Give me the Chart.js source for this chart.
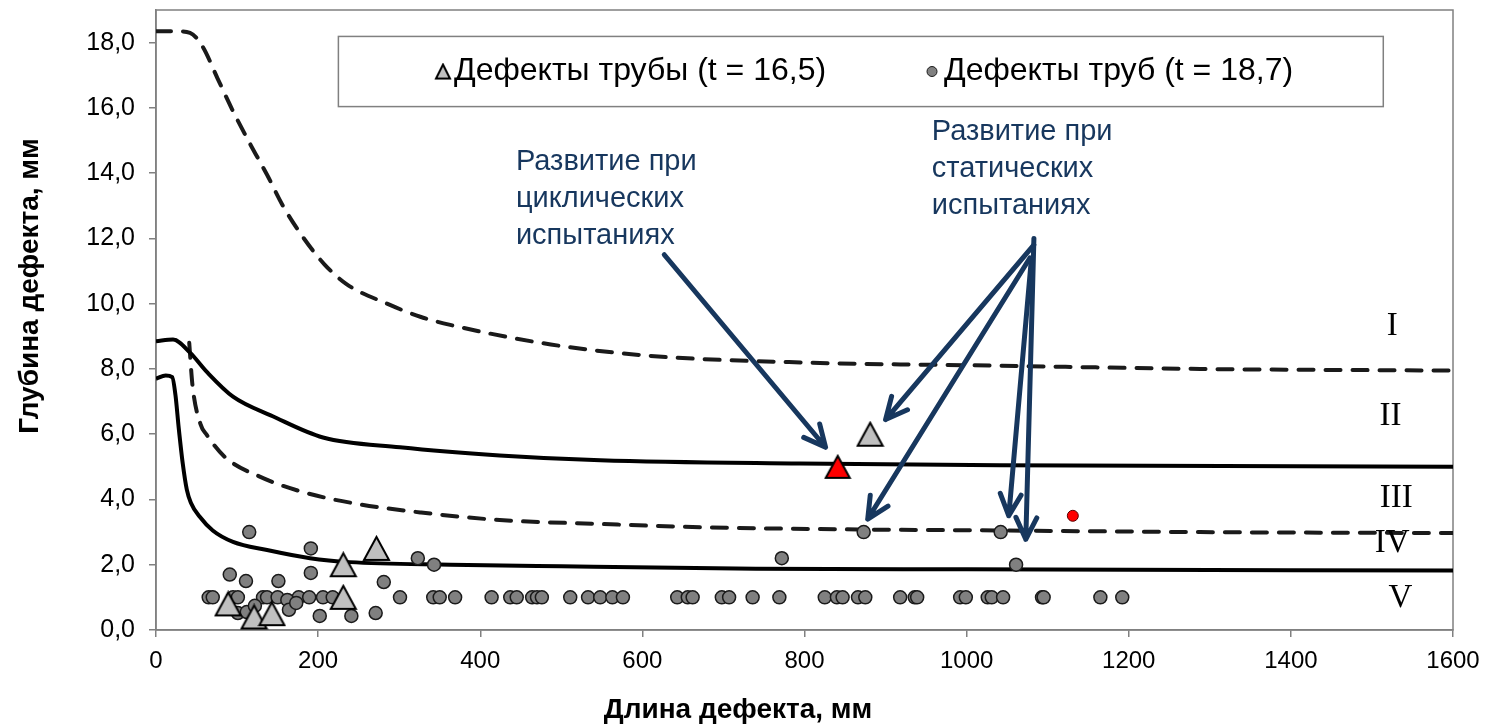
<!DOCTYPE html>
<html>
<head>
<meta charset="utf-8">
<script src="https://cdn.jsdelivr.net/npm/chart.js@4"></script>
<style>
  html, body { margin: 0; background: #fff; }
  #wrap { width: 1486px; height: 724px; }
</style>
</head>
<body>
<div id="wrap"><canvas id="chart"></canvas></div>
<script>
// limit curves (I..V)
const curveIx = [0, 25, 42, 57, 76, 94, 116, 137, 157, 181, 208, 235, 285, 326, 363, 487, 610, 795, 1041, 1288, 1600]
const curveIy = [18.35, 18.35, 18.3, 17.9, 16.9, 15.95, 14.9, 13.95, 12.98, 12.05, 11.2, 10.6, 10.0, 9.6, 9.35, 8.75, 8.4, 8.2, 8.1, 8.0, 7.95]
const curveIIx = [0, 21, 42, 63, 95, 144, 206, 301, 424, 548, 794, 1041, 1600]
const curveIIy = [8.85, 8.9, 8.5, 7.9, 7.15, 6.55, 5.9, 5.6, 5.35, 5.2, 5.1, 5.05, 5.0]
const curveIIIx = [41, 45, 55, 62, 85, 128, 178, 240, 327, 424, 548, 671, 868, 1041, 1288, 1600]
const curveIIIy = [8.8, 7.5, 6.3, 6.0, 5.3, 4.7, 4.25, 3.9, 3.6, 3.37, 3.25, 3.15, 3.08, 3.05, 3.0, 2.97]
const curveVx = [0, 12, 20, 24, 28, 33, 38, 43, 54, 70, 95, 137, 190, 239, 363, 500, 740, 1000, 1600]
const curveVy = [7.7, 7.8, 7.75, 7.2, 6.2, 5.1, 4.3, 3.9, 3.47, 3.05, 2.7, 2.45, 2.2, 2.08, 2.0, 1.95, 1.88, 1.86, 1.82]

// pipe defects t = 16,5 (triangles)
const triX = [89, 121, 143, 231, 231, 272, 881]
const triY = [0.8, 0.4, 0.5, 1.0, 2.0, 2.5, 6.0]
const redTriX = [841]
const redTriY = [5.0]

// pipe defects t = 18,7 (circles)
const rowX = [65, 70, 95, 101, 132, 137, 150, 176, 189, 206, 218, 301, 342, 350, 369, 414, 437, 445, 464, 470, 476,
  511, 533, 548, 563, 576, 643, 656, 662, 698, 707, 736, 769, 825, 840, 847, 866, 875, 918, 936, 939, 992, 999,
  1026, 1031, 1045, 1093, 1095, 1165, 1192]
const otherX = [115, 191, 191, 91, 111, 151, 281, 323, 343, 101, 112, 122, 162, 164, 173, 202, 241, 271, 772, 873, 1042, 1061]
const otherY = [3.0, 2.5, 1.75, 1.7, 1.5, 1.5, 1.47, 2.2, 2.0, 0.52, 0.55, 0.74, 0.92, 0.62, 0.83, 0.43, 0.43, 0.52, 2.2, 3.0, 3.0, 2.0]
const redDotX = [1131]
const redDotY = [3.5]

const xTicks = [0, 200, 400, 600, 800, 1000, 1200, 1400, 1600]
const yTicks = [0, 2, 4, 6, 8, 10, 12, 14, 16, 18]

const zones = ['I', 'II', 'III', 'IV', 'V']
const zoneX = [1525, 1523, 1530, 1525, 1535]
const zoneY = [9.3, 6.55, 4.05, 2.65, 0.98]

const legendLabels = ['Дефекты трубы (t = 16,5)', 'Дефекты труб (t = 18,7)']
const noteCyclic = ['Развитие при', 'циклических', 'испытаниях']
const noteStatic = ['Развитие при', 'статических', 'испытаниях']

// arrows: [fromX, fromY, toX, toY]
const arrows = [
  [627, 11.5, 826, 5.6],
  [1083, 11.8, 900, 6.45],
  [1078, 11.4, 878, 3.4],
  [1080, 11.4, 1052, 3.5],
  [1083, 12.0, 1073, 2.78]
]

const pts = (xs, ys) => xs.map((x, i) => ({ x, y: ys[i] }))
const SANS = "'Liberation Sans', Arial, sans-serif"
const NAVY = '#17375e'

function triangle(fill, w, h) {
  const c = document.createElement('canvas')
  c.width = w + 4
  c.height = h + 4
  const g = c.getContext('2d')
  g.beginPath()
  g.moveTo(c.width / 2, 2)
  g.lineTo(c.width - 2, h + 2)
  g.lineTo(2, h + 2)
  g.closePath()
  g.fillStyle = fill
  g.fill()
  g.lineWidth = 2
  g.strokeStyle = '#000'
  g.stroke()
  return c
}
const grayTri = triangle('#c0c0c0', 25, 23)
const redTri = triangle('#ff0000', 24, 22)
const legendTri = triangle('#c0c0c0', 14, 14)

const line = (data, dashed) => ({
  data,
  showLine: true,
  pointRadius: 0,
  borderColor: dashed ? '#1a1a1a' : '#000',
  borderWidth: 4,
  borderDash: dashed ? [15, 12] : [],
  borderCapStyle: dashed ? 'round' : 'butt',
  cubicInterpolationMode: 'monotone',
  fill: false
})

const extras = {
  id: 'extras',
  beforeDatasetsDraw(chart) {
    const { ctx, chartArea: a } = chart
    ctx.save()
    ctx.strokeStyle = '#808080'
    ctx.lineWidth = 1.5
    ctx.strokeRect(a.left, a.top, a.right - a.left, a.bottom - a.top)
    ctx.restore()
  },
  afterDraw(chart) {
    const { ctx } = chart
    const xs = chart.scales.x, ys = chart.scales.y
    const px = v => xs.getPixelForValue(v)
    const py = v => ys.getPixelForValue(v)
    ctx.save()

    // legend box
    const bx0 = px(225), bx1 = px(1514), by0 = py(18.19), by1 = py(16.04)
    ctx.fillStyle = '#fff'
    ctx.fillRect(bx0, by0, bx1 - bx0, by1 - by0)
    ctx.strokeStyle = '#808080'
    ctx.lineWidth = 1.5
    ctx.strokeRect(bx0, by0, bx1 - bx0, by1 - by0)
    const ly = (by0 + by1) / 2
    ctx.drawImage(legendTri, 443 - legendTri.width / 2, ly - legendTri.height / 2)
    ctx.beginPath()
    ctx.arc(932, ly, 5, 0, Math.PI * 2)
    ctx.fillStyle = '#808080'
    ctx.fill()
    ctx.strokeStyle = '#1a1a1a'
    ctx.lineWidth = 1
    ctx.stroke()
    ctx.fillStyle = '#000'
    ctx.font = '32px ' + SANS
    ctx.textBaseline = 'middle'
    ctx.textAlign = 'left'
    ctx.fillText(legendLabels[0], 454, ly)
    ctx.fillText(legendLabels[1], 944, ly)

    // notes
    ctx.fillStyle = NAVY
    ctx.font = '29px ' + SANS
    noteCyclic.forEach((t, i) => ctx.fillText(t, px(444), py(14.35) + i * 37))
    noteStatic.forEach((t, i) => ctx.fillText(t, px(957), py(15.25) + i * 37))

    // arrows
    ctx.strokeStyle = NAVY
    ctx.lineWidth = 5
    ctx.lineCap = 'round'
    ctx.lineJoin = 'round'
    arrows.forEach(([x0, y0, x1, y1]) => {
      const ax = px(x0), ay = py(y0), bx = px(x1), by = py(y1)
      const ang = Math.atan2(by - ay, bx - ax)
      ctx.beginPath()
      ctx.moveTo(ax, ay)
      ctx.lineTo(bx, by)
      const hl = 24, hw = 0.45
      ctx.moveTo(bx - hl * Math.cos(ang - hw), by - hl * Math.sin(ang - hw))
      ctx.lineTo(bx, by)
      ctx.lineTo(bx - hl * Math.cos(ang + hw), by - hl * Math.sin(ang + hw))
      ctx.stroke()
    })

    // zone numerals
    ctx.fillStyle = '#000'
    ctx.font = "33px 'Liberation Serif', 'Times New Roman', serif"
    ctx.textAlign = 'center'
    zones.forEach((z, i) => ctx.fillText(z, px(zoneX[i]), py(zoneY[i])))

    // axis titles
    ctx.font = 'bold 28px ' + SANS
    ctx.fillText('Длина дефекта, мм', 738, 710)
    ctx.translate(30, 286)
    ctx.rotate(-Math.PI / 2)
    ctx.fillText('Глубина дефекта, мм', 0, 0)
    ctx.restore()
  }
}

new Chart(document.getElementById('chart'), {
  type: 'scatter',
  data: {
    datasets: [
      { data: pts(redDotX, redDotY), pointRadius: 5.5, backgroundColor: '#ff0000', borderColor: '#5a0000', borderWidth: 1 },
      { data: pts(redTriX, redTriY), pointStyle: redTri },
      { data: pts(triX, triY), pointStyle: grayTri },
      { data: pts(otherX, otherY), pointRadius: 6.5, backgroundColor: '#808080', borderColor: '#1a1a1a', borderWidth: 1.5 },
      { data: rowX.map(x => ({ x, y: 1.0 })), pointRadius: 6.5, backgroundColor: '#808080', borderColor: '#1a1a1a', borderWidth: 1.5 },
      line(pts(curveIx, curveIy), true),
      line(pts(curveIIx, curveIIy), false),
      line(pts(curveIIIx, curveIIIy), true),
      line(pts(curveVx, curveVy), false)
    ]
  },
  options: {
    responsive: true,
    maintainAspectRatio: false,
    animation: false,
    layout: { padding: { top: 10, right: 33, left: 0, bottom: 0 } },
    plugins: { legend: { display: false }, tooltip: { enabled: false } },
    scales: {
      x: {
        type: 'linear',
        min: 0,
        max: 1600,
        afterFit: s => { s.height = 94; s.paddingLeft = 0; s.paddingRight = 0 },
        afterBuildTicks: s => { s.ticks = xTicks.map(value => ({ value })) },
        grid: { drawOnChartArea: false, drawTicks: true, tickLength: 7, color: '#808080', lineWidth: 1.5 },
        border: { color: '#808080', width: 1.5 },
        ticks: { color: '#000', padding: 10, maxRotation: 0, font: { family: SANS, size: 24 }, callback: v => String(v) }
      },
      y: {
        min: 0,
        max: 19,
        afterFit: s => { s.width = 156; s.paddingTop = 0; s.paddingBottom = 0 },
        afterBuildTicks: s => { s.ticks = yTicks.map(value => ({ value })) },
        grid: { drawOnChartArea: false, drawTicks: true, tickLength: 7, color: '#808080', lineWidth: 1.5 },
        border: { color: '#808080', width: 1.5 },
        ticks: {
          color: '#000',
          padding: 14,
          font: { family: SANS, size: 25 },
          callback: v => v.toFixed(1).replace('.', ',')
        }
      }
    }
  },
  plugins: [extras]
})
</script>
</body>
</html>
